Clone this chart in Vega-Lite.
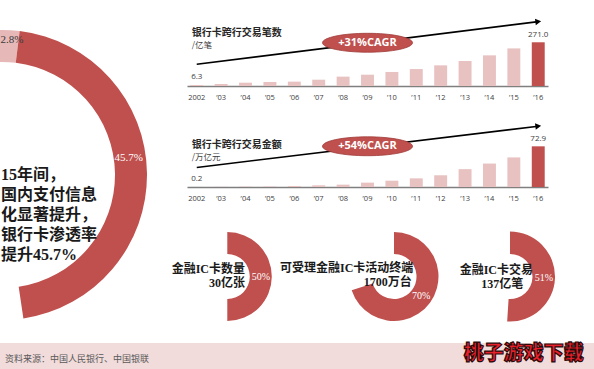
{
  "$schema": "https://vega.github.io/schema/vega-lite/v6.json",
  "padding": 0,
  "background": "#ffffff",
  "bounds": "full",
  "spacing": 0,
  "config": {"view": {"stroke": null}, "font": "Noto Sans CJK SC"},
  "vconcat": [
    {
      "bounds": "flush",
      "spacing": 7,
      "hconcat": [
        {
          "width": 180,
          "height": 343,
          "layer": [
            {
              "data": {"values": [
                {"seg": "2002年", "pct": 2.8, "label": "2.8%", "ord": 1},
                {"seg": "2016年", "pct": 45.7, "label": "45.7%", "ord": 2}
              ]},
              "encoding": {
                "x": {"datum": 2, "type": "quantitative", "scale": {"domain": [0, 180], "nice": false, "zero": false}, "axis": null},
                "y": {"datum": 175, "type": "quantitative", "scale": {"domain": [0, 343], "nice": false, "zero": false, "reverse": true}, "axis": null},
                "theta": {"field": "pct", "type": "quantitative", "stack": true, "scale": {"domain": [0, 100], "range": [-0.0538, 6.2294]}},
                "order": {"field": "ord", "type": "quantitative"}
              },
              "layer": [
                {
                  "mark": {"type": "arc", "outerRadius": 145, "innerRadius": 113, "clip": true},
                  "encoding": {"color": {"field": "seg", "type": "nominal", "scale": {"domain": ["2002年", "2016年"], "range": ["#e6b8b7", "#c0504d"]}, "legend": null}}
                },
                {
                  "transform": [{"filter": "datum.ord === 1"}],
                  "mark": {"type": "text", "radius": 135, "clip": true, "font": "Liberation Serif", "fontSize": 11, "baseline": "middle", "align": "left", "dx": -6, "color": "#3a3a3a"},
                  "encoding": {"text": {"field": "label"}}
                },
                {
                  "transform": [{"filter": "datum.ord === 2"}],
                  "mark": {"type": "text", "radius": 129, "font": "Liberation Serif", "fontSize": 11, "baseline": "middle", "align": "center", "dy": 7, "color": "#ffffff"},
                  "encoding": {"text": {"field": "label"}}
                }
              ]
            },
            {
              "data": {"values": [{"note": "15年间，\n国内支付信息\n化显著提升，\n银行卡渗透率\n提升45.7%"}]},
              "mark": {"type": "text", "align": "left", "baseline": "middle", "lineBreak": "\n", "lineHeight": 20, "fontSize": 16, "fontWeight": "bold", "font": "Liberation Serif, Noto Sans CJK SC", "color": "#1a1a1a"},
              "encoding": {
                "x": {"datum": 1, "type": "quantitative", "scale": {"domain": [0, 180], "nice": false, "zero": false}, "axis": null},
                "y": {"datum": 175, "type": "quantitative", "scale": {"domain": [0, 343], "nice": false, "zero": false, "reverse": true}, "axis": null},
                "text": {"field": "note"}
              }
            }
          ]
        },
        {
          "bounds": "flush",
          "spacing": 0,
          "vconcat": [
            {
              "width": 361,
              "height": 86,
              "data": {"values": [
                {"year": "2002", "v": 6.3}, {"year": "’03", "v": 12.4}, {"year": "’04", "v": 20.5},
                {"year": "’05", "v": 25}, {"year": "’06", "v": 27}, {"year": "’07", "v": 39},
                {"year": "’08", "v": 58}, {"year": "’09", "v": 70}, {"year": "’10", "v": 87},
                {"year": "’11", "v": 105}, {"year": "’12", "v": 128}, {"year": "’13", "v": 155},
                {"year": "’14", "v": 190}, {"year": "’15", "v": 233}, {"year": "’16", "v": 271.0}
              ]},
              "layer": [
                {
                  "mark": {"type": "bar"},
                  "encoding": {
                    "x": {"field": "year", "type": "ordinal", "sort": null,
                      "scale": {"domain": ["2002", "’03", "’04", "’05", "’06", "’07", "’08", "’09", "’10", "’11", "’12", "’13", "’14", "’15", "’16"], "paddingInner": 0.47, "paddingOuter": 0.135},
                      "axis": {"title": null, "domainColor": "#7f7f7f", "domainWidth": 1.3, "ticks": false, "labelPadding": 7, "labelFont": "Open Sans", "labelFontSize": 7.5, "labelColor": "#404040", "labelAngle": 0, "labelOverlap": false, "grid": false}},
                    "y": {"field": "v", "type": "quantitative", "scale": {"domain": [0, 533], "nice": false}, "axis": null},
                    "color": {"condition": {"test": "datum.year === '’16'", "value": "#c0504d"}, "value": "#e8c1c1"}
                  }
                },
                {
                  "transform": [{"filter": "datum.year === '2002' || datum.year === '’16'"}],
                  "mark": {"type": "text", "dy": -7.5, "fontSize": 8, "font": "Open Sans", "color": "#404040", "baseline": "middle"},
                  "encoding": {
                    "x": {"field": "year", "type": "ordinal"},
                    "y": {"field": "v", "type": "quantitative"},
                    "text": {"field": "v", "type": "quantitative", "format": ".1f"}
                  }
                },
                {
                  "data": {"values": [{"cagr": "+31%CAGR", "title": "银行卡跨行交易笔数", "unit": "/亿笔"}]},
                  "layer": [
                    {
                      "mark": {"type": "rule", "color": "#000000", "strokeWidth": 1.6},
                      "encoding": {
                        "x": {"datum": "2002", "type": "ordinal"}, "x2": {"datum": "’16"},
                        "y": {"datum": 135, "type": "quantitative"}, "y2": {"datum": 399}
                      }
                    },
                    {
                      "mark": {"type": "point", "shape": "triangle-right", "filled": true, "color": "#000000", "size": 45, "angle": 353, "opacity": 1},
                      "encoding": {"x": {"datum": "’16", "type": "ordinal"}, "y": {"datum": 399, "type": "quantitative"}}
                    },
                    {
                      "mark": {"type": "point", "shape": "M-1,0A1,0.21,0,1,0,1,0A1,0.21,0,1,0,-1,0Z", "filled": true, "size": 8100, "color": "#c0504d", "stroke": "#9e3b39", "strokeWidth": 0.8, "opacity": 1},
                      "encoding": {"x": {"datum": "’09", "type": "ordinal"}, "y": {"datum": 268, "type": "quantitative"}}
                    },
                    {
                      "mark": {"type": "text", "font": "Open Sans", "fontWeight": "bold", "fontSize": 11, "color": "#ffffff", "baseline": "middle"},
                      "encoding": {"x": {"datum": "’09", "type": "ordinal"}, "y": {"datum": 268, "type": "quantitative"}, "text": {"field": "cagr"}}
                    },
                    {
                      "mark": {"type": "text", "align": "left", "dx": -5, "fontSize": 10, "fontWeight": "bold", "color": "#262626", "baseline": "middle"},
                      "encoding": {"x": {"datum": "2002", "type": "ordinal"}, "y": {"datum": 331, "type": "quantitative"}, "text": {"field": "title"}}
                    },
                    {
                      "mark": {"type": "text", "align": "left", "dx": -5, "fontSize": 8.5, "color": "#404040", "baseline": "middle"},
                      "encoding": {"x": {"datum": "2002", "type": "ordinal"}, "y": {"datum": 254, "type": "quantitative"}, "text": {"field": "unit"}}
                    }
                  ]
                }
              ]
            },
            {
              "width": 361,
              "height": 101,
              "data": {"values": [
                {"year": "2002", "v": 0.2}, {"year": "’03", "v": 0.4}, {"year": "’04", "v": 0.6},
                {"year": "’05", "v": 0.9}, {"year": "’06", "v": 1.8}, {"year": "’07", "v": 3.0},
                {"year": "’08", "v": 4.2}, {"year": "’09", "v": 7.8}, {"year": "’10", "v": 11.3},
                {"year": "’11", "v": 15.5}, {"year": "’12", "v": 21.0}, {"year": "’13", "v": 32.0},
                {"year": "’14", "v": 42.0}, {"year": "’15", "v": 53.0}, {"year": "’16", "v": 72.9}
              ]},
              "layer": [
                {
                  "mark": {"type": "bar"},
                  "encoding": {
                    "x": {"field": "year", "type": "ordinal", "sort": null,
                      "scale": {"domain": ["2002", "’03", "’04", "’05", "’06", "’07", "’08", "’09", "’10", "’11", "’12", "’13", "’14", "’15", "’16"], "paddingInner": 0.47, "paddingOuter": 0.135},
                      "axis": {"title": null, "domainColor": "#7f7f7f", "domainWidth": 1.3, "ticks": false, "labelPadding": 7, "labelFont": "Open Sans", "labelFontSize": 7.5, "labelColor": "#404040", "labelAngle": 0, "labelOverlap": false, "grid": false}},
                    "y": {"field": "v", "type": "quantitative", "scale": {"domain": [0, 181], "nice": false}, "axis": null},
                    "color": {"condition": {"test": "datum.year === '’16'", "value": "#c0504d"}, "value": "#e8c1c1"}
                  }
                },
                {
                  "transform": [{"filter": "datum.year === '2002' || datum.year === '’16'"}],
                  "mark": {"type": "text", "dy": -7.5, "fontSize": 8, "font": "Open Sans", "color": "#404040", "baseline": "middle"},
                  "encoding": {
                    "x": {"field": "year", "type": "ordinal"},
                    "y": {"field": "v", "type": "quantitative"},
                    "text": {"field": "v", "type": "quantitative", "format": ".1f"}
                  }
                },
                {
                  "data": {"values": [{"cagr": "+54%CAGR", "title": "银行卡跨行交易金额", "unit": "/万亿元"}]},
                  "layer": [
                    {
                      "mark": {"type": "rule", "color": "#000000", "strokeWidth": 1.6},
                      "encoding": {
                        "x": {"datum": "2002", "type": "ordinal"}, "x2": {"datum": "’16"},
                        "y": {"datum": 35, "type": "quantitative"}, "y2": {"datum": 109}
                      }
                    },
                    {
                      "mark": {"type": "point", "shape": "triangle-right", "filled": true, "color": "#000000", "size": 45, "angle": 353, "opacity": 1},
                      "encoding": {"x": {"datum": "’16", "type": "ordinal"}, "y": {"datum": 109, "type": "quantitative"}}
                    },
                    {
                      "mark": {"type": "point", "shape": "M-1,0A1,0.21,0,1,0,1,0A1,0.21,0,1,0,-1,0Z", "filled": true, "size": 8100, "color": "#c0504d", "stroke": "#9e3b39", "strokeWidth": 0.8, "opacity": 1},
                      "encoding": {"x": {"datum": "’09", "type": "ordinal"}, "y": {"datum": 73, "type": "quantitative"}}
                    },
                    {
                      "mark": {"type": "text", "font": "Open Sans", "fontWeight": "bold", "fontSize": 11, "color": "#ffffff", "baseline": "middle"},
                      "encoding": {"x": {"datum": "’09", "type": "ordinal"}, "y": {"datum": 73, "type": "quantitative"}, "text": {"field": "cagr"}}
                    },
                    {
                      "mark": {"type": "text", "align": "left", "dx": -5, "fontSize": 10, "fontWeight": "bold", "color": "#262626", "baseline": "middle"},
                      "encoding": {"x": {"datum": "2002", "type": "ordinal"}, "y": {"datum": 75, "type": "quantitative"}, "text": {"field": "title"}}
                    },
                    {
                      "mark": {"type": "text", "align": "left", "dx": -5, "fontSize": 8.5, "color": "#404040", "baseline": "middle"},
                      "encoding": {"x": {"datum": "2002", "type": "ordinal"}, "y": {"datum": 54, "type": "quantitative"}, "text": {"field": "unit"}}
                    }
                  ]
                }
              ]
            },
            {
              "width": 407,
              "height": 156,
              "data": {"values": [
                {"item": "金融IC卡数量", "value": "30亿张", "pct": 50, "label": "50%"},
                {"item": "可受理金融IC卡活动终端", "value": "1700万台", "pct": 70, "label": "70%"},
                {"item": "金融IC卡交易", "value": "137亿笔", "pct": 51, "label": "51%"}
              ]},
              "layer": [
                {
                  "transform": [{"filter": "datum.item === '金融IC卡数量'"}],
                  "encoding": {
                    "x": {"datum": 40.3, "type": "quantitative", "scale": {"domain": [0, 407], "nice": false, "zero": false}, "axis": null},
                    "y": {"datum": 89.5, "type": "quantitative", "scale": {"domain": [0, 156], "nice": false, "zero": false, "reverse": true}, "axis": null}
                  },
                  "layer": [
                    {"mark": {"type": "arc", "outerRadius": 44.5, "innerRadius": 22.5, "color": "#c0504d"},
                     "encoding": {"theta": {"field": "pct", "type": "quantitative", "stack": true, "scale": {"domain": [0, 100], "range": [0, 6.2832]}}}},
                    {"mark": {"type": "text", "radius": 33.5, "font": "Liberation Serif", "fontSize": 10, "color": "#ffffff", "baseline": "middle"},
                     "encoding": {"theta": {"field": "pct", "type": "quantitative", "stack": true, "scale": {"domain": [0, 100], "range": [0, 6.2832]}}, "text": {"field": "label"}}},
                    {"mark": {"type": "text", "align": "right", "baseline": "middle", "dx": 17.7, "dy": -7.5, "fontSize": 12, "fontWeight": "bold", "font": "Liberation Serif, Noto Sans CJK SC", "color": "#1a1a1a"},
                     "encoding": {"text": {"field": "item"}}},
                    {"mark": {"type": "text", "align": "right", "baseline": "middle", "dx": 17.7, "dy": 6.5, "fontSize": 12, "fontWeight": "bold", "font": "Liberation Serif, Noto Sans CJK SC", "color": "#1a1a1a"},
                     "encoding": {"text": {"field": "value"}}}
                  ]
                },
                {
                  "transform": [{"filter": "datum.item === '可受理金融IC卡活动终端'"}],
                  "encoding": {
                    "x": {"datum": 207, "type": "quantitative", "scale": {"domain": [0, 407], "nice": false, "zero": false}, "axis": null},
                    "y": {"datum": 89.5, "type": "quantitative", "scale": {"domain": [0, 156], "nice": false, "zero": false, "reverse": true}, "axis": null}
                  },
                  "layer": [
                    {"mark": {"type": "arc", "outerRadius": 44.5, "innerRadius": 22.5, "color": "#c0504d"},
                     "encoding": {"theta": {"field": "pct", "type": "quantitative", "stack": true, "scale": {"domain": [0, 100], "range": [0, 6.2832]}}}},
                    {"mark": {"type": "text", "radius": 33.5, "font": "Liberation Serif", "fontSize": 10, "color": "#ffffff", "baseline": "middle"},
                     "encoding": {"theta": {"field": "pct", "type": "quantitative", "stack": true, "scale": {"domain": [0, 100], "range": [0, 6.2832]}}, "text": {"field": "label"}}},
                    {"mark": {"type": "text", "align": "right", "baseline": "middle", "dx": 19.3, "dy": -8.8, "fontSize": 12, "fontWeight": "bold", "font": "Liberation Serif, Noto Sans CJK SC", "color": "#1a1a1a"},
                     "encoding": {"text": {"field": "item"}}},
                    {"mark": {"type": "text", "align": "right", "baseline": "middle", "dx": 17.7, "dy": 5.8, "fontSize": 12, "fontWeight": "bold", "font": "Liberation Serif, Noto Sans CJK SC", "color": "#1a1a1a"},
                     "encoding": {"text": {"field": "value"}}}
                  ]
                },
                {
                  "transform": [{"filter": "datum.item === '金融IC卡交易'"}],
                  "encoding": {
                    "x": {"datum": 323, "type": "quantitative", "scale": {"domain": [0, 407], "nice": false, "zero": false}, "axis": null},
                    "y": {"datum": 89.5, "type": "quantitative", "scale": {"domain": [0, 156], "nice": false, "zero": false, "reverse": true}, "axis": null}
                  },
                  "layer": [
                    {"mark": {"type": "arc", "outerRadius": 45, "innerRadius": 22.5, "color": "#c0504d"},
                     "encoding": {"theta": {"field": "pct", "type": "quantitative", "stack": true, "scale": {"domain": [0, 100], "range": [0, 6.2832]}}}},
                    {"mark": {"type": "text", "radius": 34, "font": "Liberation Serif", "fontSize": 10, "color": "#ffffff", "baseline": "middle"},
                     "encoding": {"theta": {"field": "pct", "type": "quantitative", "stack": true, "scale": {"domain": [0, 100], "range": [0, 6.2832]}}, "text": {"field": "label"}}},
                    {"mark": {"type": "text", "align": "right", "baseline": "middle", "dx": 23, "dy": -6.5, "fontSize": 12, "fontWeight": "bold", "font": "Liberation Serif, Noto Sans CJK SC", "color": "#1a1a1a"},
                     "encoding": {"text": {"field": "item"}}},
                    {"mark": {"type": "text", "align": "right", "baseline": "middle", "dx": 13.3, "dy": 7.5, "fontSize": 12, "fontWeight": "bold", "font": "Liberation Serif, Noto Sans CJK SC", "color": "#1a1a1a"},
                     "encoding": {"text": {"field": "value"}}}
                  ]
                }
              ]
            }
          ]
        }
      ]
    },
    {
      "width": 594,
      "height": 26,
      "view": {"fill": "#f2dcdb", "stroke": null},
      "data": {"values": [{"source": "资料来源：中国人民银行、中国银联", "wm": "桃子游戏下载"}]},
      "layer": [
        {
          "mark": {"type": "text", "align": "left", "baseline": "middle", "fontSize": 9, "color": "#595959"},
          "encoding": {
            "x": {"datum": 5, "type": "quantitative", "scale": {"domain": [0, 594], "nice": false, "zero": false}, "axis": null},
            "y": {"datum": 16, "type": "quantitative", "scale": {"domain": [0, 26], "nice": false, "zero": false, "reverse": true}, "axis": null},
            "text": {"field": "source"}
          }
        },
        {
          "mark": {"type": "text", "align": "center", "baseline": "middle", "fontSize": 20, "fontWeight": 900, "color": "#e8202a", "stroke": "#2b0a0a", "strokeWidth": 1.2},
          "encoding": {
            "x": {"datum": 523.7, "type": "quantitative", "scale": {"domain": [0, 594], "nice": false, "zero": false}, "axis": null},
            "y": {"datum": 11, "type": "quantitative", "scale": {"domain": [0, 26], "nice": false, "zero": false, "reverse": true}, "axis": null},
            "text": {"field": "wm"}
          }
        }
      ]
    }
  ]
}
